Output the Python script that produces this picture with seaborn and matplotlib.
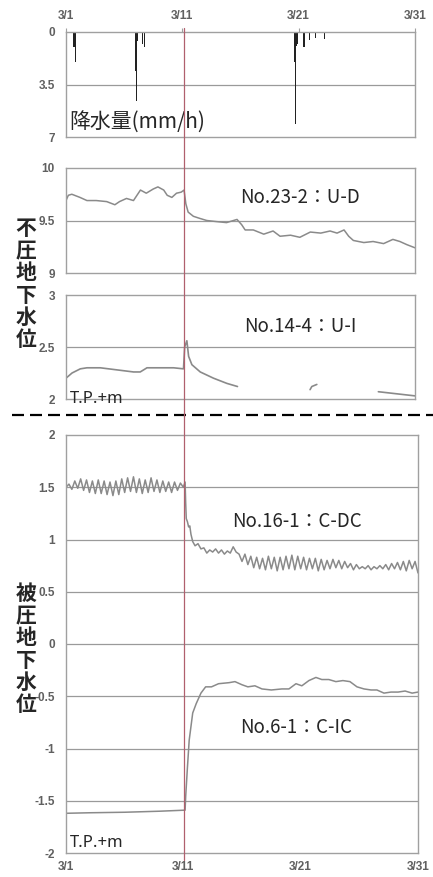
import numpy as np
import pandas as pd
import matplotlib
matplotlib.use('Agg')
import matplotlib.pyplot as plt
from matplotlib.lines import Line2D
import seaborn as sns

# x axis: days counted from 3/1 00:00
date_ticks = [0, 10, 20, 30]
date_labels = ['3/1', '3/11', '3/21', '3/31']
quake_day = 10.15

# hourly rainfall (hour from 3/1 00:00, mm/h)
rain_hours = [14, 15, 16, 17, 18, 19, 20,
              143, 144, 145, 146, 147, 152, 157, 161,
              471, 472, 473, 474, 475, 476, 477, 478, 486, 489, 490, 491, 492,
              497, 502, 507, 514, 528, 533]
rain_mm = [1.0, 1.0, 1.5, 1.0, 1.5, 2.0, 0.4,
           2.6, 1.4, 4.6, 1.2, 0.6, 0.5, 0.8, 1.0,
           2.0, 1.0, 6.1, 1.0, 0.9, 1.0, 0.8, 0.5, 1.5, 1.0, 1.0, 2.0, 1.0,
           0.5, 0.5, 1.45, 0.4, 0.45, 0.45]

# No.23-2 : U-D (unconfined, T.P.+m)
ud_days = [0.0, 0.2, 0.5, 1.2, 1.8, 2.6, 3.5, 4.2, 4.6, 5.2, 5.8, 6.4, 6.9, 7.5, 7.9,
           8.4, 8.7, 9.1, 9.5, 9.9, 10.15, 10.3, 10.5, 10.95, 11.5, 12.1, 12.9, 13.8,
           14.4, 14.7, 15.1, 15.4, 16.1, 17.0, 17.8, 18.4, 19.3, 20.1, 21.0, 21.9,
           22.7, 23.3, 23.9, 24.3, 24.7, 25.6, 26.4, 27.3, 28.1, 28.7, 29.3, 30.0]
ud_level = [9.69, 9.74, 9.75, 9.72, 9.69, 9.69, 9.68, 9.65, 9.68, 9.71, 9.69, 9.79, 9.76,
            9.80, 9.82, 9.79, 9.74, 9.72, 9.76, 9.77, 9.79, 9.66, 9.58, 9.54, 9.52, 9.50,
            9.49, 9.48, 9.50, 9.51, 9.46, 9.41, 9.41, 9.37, 9.40, 9.35, 9.36, 9.34, 9.39,
            9.38, 9.40, 9.38, 9.41, 9.35, 9.31, 9.29, 9.30, 9.28, 9.32, 9.30, 9.27, 9.24]

# No.14-4 : U-I (record has gaps -> segments)
ui_days = [0.0, 0.52, 1.23, 1.80, 2.95, 4.38, 5.81, 6.38, 6.96, 7.82, 9.25, 10.1,
           10.2, 10.39, 10.54, 10.82, 11.54, 12.68, 13.83, 14.74,
           20.98, 21.13, 21.56,
           26.85, 30.0]
ui_level = [2.20, 2.25, 2.29, 2.30, 2.30, 2.28, 2.26, 2.26, 2.30, 2.30, 2.30, 2.29,
            2.50, 2.56, 2.41, 2.33, 2.26, 2.20, 2.15, 2.12,
            2.09, 2.12, 2.14,
            2.07, 2.03]
ui_segment = [0] * 20 + [1] * 3 + [2] * 2

# No.16-1 : C-DC (confined, tidal fluctuation)
dc_days = list(np.arange(0, 10.01, 0.25)) + \
    [10.15, 10.2, 10.25, 10.35, 10.45, 10.55, 10.65, 10.8, 11.0, 11.25, 11.5, 11.75,
     12.0, 12.25, 12.5, 12.75, 13.0, 13.25, 13.5, 13.75, 14.0, 14.25, 14.5] + \
    list(np.arange(14.75, 30.01, 0.25))
dc_level = [1.50, 1.53, 1.48, 1.56, 1.49, 1.58, 1.47, 1.57, 1.45, 1.56, 1.44, 1.57,
            1.44, 1.56, 1.43, 1.55, 1.42, 1.56, 1.43, 1.58, 1.45, 1.59, 1.46, 1.60,
            1.45, 1.58, 1.44, 1.57, 1.45, 1.59, 1.46, 1.57, 1.45, 1.56, 1.46, 1.55,
            1.45, 1.55, 1.47, 1.54, 1.50,
            1.55, 1.35, 1.20, 1.17, 1.12, 1.13, 1.05, 0.98, 0.94, 0.96, 0.91, 0.92,
            0.87, 0.90, 0.88, 0.91, 0.87, 0.90, 0.86, 0.89, 0.87, 0.93, 0.88,
            0.86, 0.79, 0.86, 0.76, 0.84, 0.73, 0.83, 0.72, 0.82, 0.71, 0.84, 0.72,
            0.83, 0.70, 0.83, 0.71, 0.84, 0.72, 0.85, 0.71, 0.84, 0.72, 0.83, 0.71,
            0.82, 0.72, 0.82, 0.70, 0.81, 0.71, 0.80, 0.72, 0.81, 0.73, 0.80, 0.72,
            0.79, 0.73, 0.77, 0.71, 0.76, 0.72, 0.74, 0.72, 0.75, 0.71, 0.74, 0.72,
            0.75, 0.72, 0.76, 0.71, 0.77, 0.72, 0.78, 0.71, 0.79, 0.70, 0.80, 0.72,
            0.79, 0.68]

# No.6-1 : C-IC
ic_days = [0.0, 2.0, 5.0, 8.0, 10.15, 10.2, 10.35, 10.5, 10.8, 11.1, 11.5, 11.9, 12.4,
           13.0, 13.9, 14.4, 15.0, 15.5, 16.1, 16.7, 17.5, 18.4, 19.0, 19.6, 20.1, 20.7,
           21.3, 21.8, 22.4, 23.0, 23.6, 24.2, 24.8, 25.4, 26.0, 26.5, 27.1, 27.7,
           28.3, 28.9, 29.5, 30.0]
ic_level = [-1.62, -1.615, -1.61, -1.60, -1.59, -1.46, -1.18, -0.92, -0.66, -0.57,
            -0.47, -0.41, -0.41, -0.38, -0.37, -0.36, -0.39, -0.41, -0.40, -0.43,
            -0.44, -0.43, -0.43, -0.38, -0.40, -0.35, -0.32, -0.34, -0.34, -0.36,
            -0.35, -0.36, -0.41, -0.43, -0.44, -0.44, -0.47, -0.46, -0.46, -0.45,
            -0.47, -0.46]

sns.set_style('white')
plt.rcParams['font.family'] = ['Noto Sans CJK JP', 'DejaVu Sans']

LINE = '#8a8a8a'
FRAME = '#a0a0a0'
GRID = '#9a9a9a'
TICKFONT = dict(fontsize=8.5, fontweight='bold', color='#606060',
                family=['Liberation Sans', 'DejaVu Sans'])

fig = plt.figure(figsize=(4.33, 8.77), dpi=100)
W, H = 433, 877


def add_ax(x0, y0, x1, y1):
    return fig.add_axes([x0 / W, 1 - y1 / H, (x1 - x0) / W, (y1 - y0) / H])


def style(ax, ylim, yticks, grid):
    ax.set_xlim(0, 30)
    ax.set_ylim(*ylim)
    ax.set_yticks(yticks)
    ax.set_yticklabels(['%g' % t for t in yticks], **TICKFONT)
    for g in grid:
        ax.axhline(g, color=GRID, lw=0.9, zorder=0)
    for s in ax.spines.values():
        s.set_color(FRAME)
        s.set_linewidth(1.0)
    ax.tick_params(axis='y', length=0, pad=8)
    ax.set_xlabel('')
    ax.set_ylabel('')


# rainfall
ax1 = add_ax(66, 32, 415, 137)
rain = pd.DataFrame({'day': np.array(rain_hours) / 24, 'mm': rain_mm})
ax1.bar(rain['day'], rain['mm'], width=1 / 24, color='#222222', linewidth=0, align='edge')
style(ax1, (7, 0), [0, 3.5, 7], [3.5])
ax1.xaxis.tick_top()
ax1.set_xticks(date_ticks)
ax1.set_xticklabels(date_labels, **TICKFONT)
ax1.tick_params(axis='x', length=3, color=FRAME, pad=4)
ax1.text(0.008, 0.03, '降水量(mm/h)', transform=ax1.transAxes, fontsize=15,
         ha='left', va='bottom')

# No.23-2
ax2 = add_ax(66, 168, 415, 273)
sns.lineplot(x=ud_days, y=ud_level, ax=ax2, color=LINE, lw=1.1, sort=False)
style(ax2, (9, 10), [9, 9.5, 10], [9.5])
ax2.set_xticks([])
ax2.text(0.67, 0.72, 'No.23-2：U-D', transform=ax2.transAxes, fontsize=13.5,
         ha='center', va='center')

# No.14-4
ax3 = add_ax(66, 295, 415, 399)
ui = pd.DataFrame({'day': ui_days, 'level': ui_level, 'seg': ui_segment})
sns.lineplot(data=ui, x='day', y='level', units='seg', estimator=None, ax=ax3,
             color=LINE, lw=1.2, sort=False)
style(ax3, (2, 3), [2, 2.5, 3], [2.5])
ax3.set_xticks([])
ax3.text(0.67, 0.7, 'No.14-4：U-I', transform=ax3.transAxes, fontsize=13.5,
         ha='center', va='center')
ax3.text(0.01, -0.075, 'T.P.+m', transform=ax3.transAxes, fontsize=12,
         ha='left', va='bottom', family=['Noto Sans', 'DejaVu Sans'])

# confined aquifers
ax4 = add_ax(66, 435, 418, 853)
sns.lineplot(x=dc_days, y=dc_level, ax=ax4, color=LINE, lw=1.1, sort=False)
sns.lineplot(x=ic_days, y=ic_level, ax=ax4, color=LINE, lw=1.1, sort=False)
yt = [-2, -1.5, -1, -0.5, 0, 0.5, 1, 1.5, 2]
style(ax4, (-2, 2), yt, yt[1:-1])
ax4.set_xticks(date_ticks)
ax4.set_xticklabels(date_labels, **TICKFONT)
ax4.tick_params(axis='x', length=0, pad=6)
ax4.text(0.655, 0.7925, 'No.16-1：C-DC', transform=ax4.transAxes, fontsize=13.5,
         ha='center', va='center')
ax4.text(0.655, 0.3, 'No.6-1：C-IC', transform=ax4.transAxes, fontsize=13.5,
         ha='center', va='center')
ax4.text(0.01, 0.005, 'T.P.+m', transform=ax4.transAxes, fontsize=12,
         ha='left', va='bottom', family=['Noto Sans', 'DejaVu Sans'])

# earthquake line through all panels
qx = fig.transFigure.inverted().transform(ax1.transData.transform((quake_day, 0)))[0]
fig.add_artist(Line2D([qx, qx], [1 - 28 / H, 1 - 860 / H], color='#b0606e', lw=0.9,
                      transform=fig.transFigure, zorder=5))

# separator between unconfined / confined
fig.add_artist(Line2D([12 / W, 1.0], [1 - 415 / H] * 2, color='black', lw=1.6,
                      linestyle=(0, (5.4, 2.7)), transform=fig.transFigure))

# vertical group labels
fig.text(26 / W, 1 - 284 / H, '\n'.join('不圧地下水位'), fontsize=15, fontweight='bold',
         ha='center', va='center', linespacing=1.08)
fig.text(26 / W, 1 - 649 / H, '\n'.join('被圧地下水位'), fontsize=15, fontweight='bold',
         ha='center', va='center', linespacing=1.08)

fig.savefig('out.png', dpi=100)
